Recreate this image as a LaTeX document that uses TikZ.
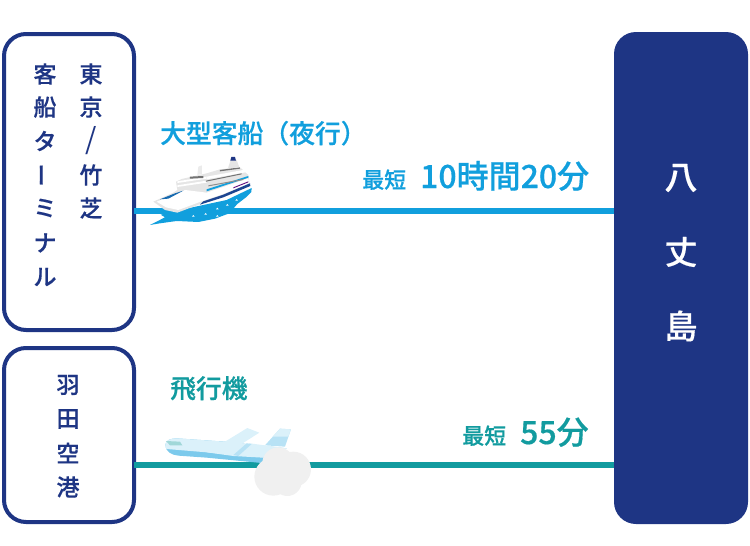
\documentclass[tikz,border=0pt]{standalone}
\usepackage{fontspec}
\setmainfont{Noto Sans CJK JP}[BoldFont={Noto Sans CJK JP Medium}, BoldFeatures={FakeBold=0.5}]
\definecolor{navy}{HTML}{1E3584}
\definecolor{seablue}{HTML}{119FDD}
\definecolor{airteal}{HTML}{129B9F}
\tikzset{
	placebox/.style={draw=navy, line width=4pt, rounded corners=22pt, fill=white, outer sep=0pt, anchor=north west},
	placetext/.style={text=navy, font=\fontsize{23}{23}\selectfont\bfseries, inner sep=0pt},
	islandtext/.style={text=white, font=\fontsize{33}{33}\selectfont\bfseries, inner sep=0pt},
	routeline/.style={line width=6pt},
	shiplabel/.style={text=seablue, inner sep=0pt, anchor=base west},
	planelabel/.style={text=airteal, inner sep=0pt, anchor=base west},
	speck/.style={fill=white, draw=none}
}
\begin{document}
\begin{tikzpicture}[x=1pt, y=-1pt]
	\useasboundingbox (0, 0) rectangle (750, 546);

	% places
	\node[placebox, minimum width=130pt, minimum height=296pt] (tkbox) at(4, 34){};
	\node[placebox, minimum width=130pt, minimum height=174pt] (hndbox) at(4, 348){};
	\node[fill=navy, rounded corners=22pt, minimum width=134pt, minimum height=492pt, anchor=north west, inner sep=0pt, outer sep=0pt] (hjbox) at(614, 32){};

	% routes
	\coordinate (shipstart) at(tkbox.east |- 0, 211);
	\coordinate (shipend) at(hjbox.west |- 0, 211);
	\coordinate (planestart) at(hndbox.east |- 0, 465);
	\coordinate (planeend) at(hjbox.west |- 0, 465);
	\draw[routeline, seablue] (shipstart) to (shipend);
	\draw[routeline, airteal] (planestart) to (planeend);

	% text in the boxes
	\foreach \ch/\yy [count=\i] in {東/74, 京/107, 竹/175, 芝/208}
		\node[placetext] (tk\i) at(91, \yy){\ch};
	\node[placetext, font=\fontsize{29}{29}\selectfont] (tkslash) at(91, 141){/};
	\foreach \ch/\yy [count=\i] in {客/74, 船/107, タ/141, ミ/208, ナ/243, ル/277}
		\node[placetext] (kt\i) at(45, \yy){\ch};
	\node[placetext, rotate=90] (ktbar) at(45, 175){ー};
	\foreach \ch/\yy [count=\i] in {羽/385, 田/419, 空/453, 港/487}
		\node[placetext] (hnd\i) at(68, \yy){\ch};
	\foreach \ch/\yy [count=\i] in {八/178, 丈/252, 島/326}
		\node[islandtext] (hj\i) at(681, \yy){\ch};

	% route labels
	\node[shiplabel, font=\fontsize{25.8}{26}\selectfont\bfseries] (shipname) at(160, 143){大型客船（夜行）};
	\node[shiplabel, font=\fontsize{22}{22}\selectfont\bfseries] (shipmin) at(362, 188){最短};
	\node[shiplabel, font=\fontsize{32}{32}\selectfont\bfseries] (shiptime) at(420, 188){10時間20分};
	\node[planelabel, font=\fontsize{25.8}{26}\selectfont\bfseries] (planename) at(170, 398){飛行機};
	\node[planelabel, font=\fontsize{22}{22}\selectfont\bfseries] (planemin) at(462, 444){最短};
	\node[planelabel, font=\fontsize{32}{32}\selectfont\bfseries] (planetime) at(520, 444){55分};

	% ship
	\begin{scope}[shift={(140, 110)}, x=0.3333pt, y=-0.3333pt]
		\fill[seablue] (30, 345) to (75, 322) to (62, 314) to (120, 300) to (260, 270) to (335, 234) to (334, 246) to (318, 262) to (292, 282) to (268, 310) to (225, 326) to (175, 336) to (110, 333) to (60, 340) to cycle;
		\foreach \xx/\yy in {160/318, 197/312, 232/318, 232/296, 262/285, 290/270}
			\fill[speck] (\xx-4, \yy+2) to (\xx, \yy-3) to (\xx+4, \yy+2) to cycle;
		\fill[black!10] (40, 275) to (100, 248) to (112, 240) to (108, 215) to (125, 207) to (200, 190) to (240, 178) to (300, 172) to (325, 195) to (330, 226) to (250, 258) to (200, 275) to (112, 308) to (75, 300) to cycle;
		\fill[white] (50, 275) to (135, 240) to (200, 248) to (325, 205) to (328, 220) to (250, 252) to (190, 272) to (115, 300) to (78, 292) to cycle;
		\foreach \yy in {214, 226}
			\fill[white] (112, \yy) to (200, \yy-14) to (200, \yy-8) to (112, \yy+5) to cycle;
		\fill[white] (200, 200) to (320, 178) to (322, 186) to (200, 208) to cycle;
		\fill[navy!85!seablue] (190, 274) to (250, 254) to (330, 220) to (331, 228) to (250, 262) to (180, 284) to cycle;
		\fill[seablue!50!navy] (60, 268) to (105, 250) to (130, 242) to (85, 266) to cycle;
		\fill[seablue] (200, 238) to (325, 198) to (325, 203) to (200, 244) to cycle;
		\fill[black!55] (198, 212) to (305, 190) to (305, 193) to (198, 215) to cycle;
		\fill[black!45] (205, 226) to (310, 207) to (310, 210) to (205, 229) to cycle;
		\fill[black!55] (240, 180) to (300, 172) to (300, 176) to (240, 184) to cycle;
		\fill[black!55] (150, 200) to (190, 198) to (190, 204) to (150, 206) to cycle;
		\fill[violet!70!navy] (280, 232) to (325, 214) to (325, 217) to (280, 235) to cycle;
		\fill[black!8] (172, 195) to (175, 170) to (186, 166) to (186, 192) to cycle;
		\fill[black!10] (264, 175) to (272, 150) to (290, 150) to (298, 172) to cycle;
		\fill[navy] (274, 141) to (285, 141) to (288, 152) to (271, 152) to cycle;
	\end{scope}

	% plane
	\begin{scope}[shift={(150, 410)}, x=0.3333pt, y=-0.3333pt]
		\fill[seablue!30] (345, 106) to (390, 56) to (423, 58) to (405, 110) to cycle;
		\fill[seablue!15] (368, 80) to (390, 56) to (423, 58) to (415, 80) to cycle;
		\fill[seablue!55] (46, 105) to[out=-90, in=175] (85, 137) to (170, 143) to (345, 160) to (370, 145) to (410, 115) to (225, 95) to (80, 85) to[out=180, in=90] cycle;
		\fill[seablue!15] (46, 105) to[out=-85, in=175] (50, 117) to (170, 127) to (375, 145) to (410, 115) to (225, 95) to (80, 85) to[out=180, in=90] cycle;
		\fill[seablue!15] (225, 95) to (292, 54) to (328, 68) to (270, 105) to cycle;
		\fill[seablue!15] (170, 127) to (300, 100) to (410, 115) to (375, 145) to (250, 138) to cycle;
		\fill[seablue!30] (250, 135) to (290, 100) to (305, 102) to (265, 138) to cycle;
		\fill[airteal!40] (48, 93) to (90, 95) to (97, 106) to (60, 106) to cycle;
		\fill[black!6] (370, 200) circle (57);
		\fill[black!6] (412, 215) circle (43);
		\fill[black!6] (430, 178) circle (53);
		\fill[black!6] (385, 160) circle (48);
	\end{scope}

\end{tikzpicture}
\end{document}
